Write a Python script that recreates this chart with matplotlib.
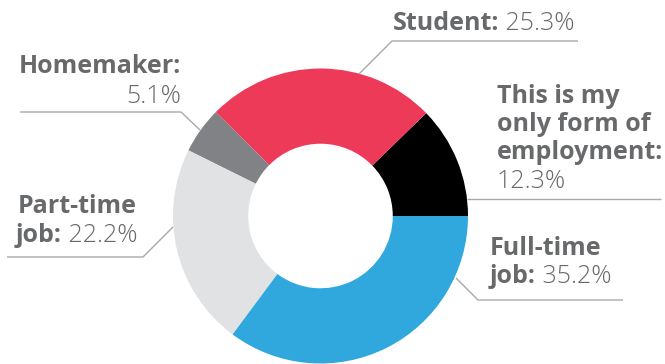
import matplotlib.pyplot as plt

# survey shares, in drawing order (counter-clockwise from 3 o'clock)
labels = ["This is my\nonly form of\nemployment:", "Student:", "Homemaker:", "Part-time\njob:", "Full-time\njob:"]
shares = [12.3, 25.3, 5.1, 22.2, 35.2]
colors = ["#000000", "#ee3a59", "#808285", "#e1e2e4", "#30a8de"]

W, H = 665, 364
cx, cy, R = 320.5, H - 216, 147.5
TXT = "#68696b"
LINE = "#a7a9ac"
FONT = "Open Sans"
FS = 18

fig = plt.figure(figsize=(W / 100, H / 100), dpi=100)
ax = fig.add_axes([0, 0, 1, 1])
ax.pie(shares, colors=colors, startangle=0, counterclock=True, center=(cx, cy), radius=R,
       wedgeprops=dict(width=R * 0.51, linewidth=0))
ax.set_xlim(0, W)
ax.set_ylim(0, H)
ax.set_aspect("equal")
ax.axis("off")

# leader lines: (x, y) points in pixel rows from top
leaders = [
    [(467, 199), (661, 199)],
    [(359, 74), (392, 41), (578, 41)],
    [(200, 130), (181, 112), (20, 112)],
    [(173, 227), (143, 257), (7, 257)],
    [(456, 278), (478, 300), (623, 300)],
]
for pts in leaders:
    ax.plot([p[0] for p in pts], [H - p[1] for p in pts], color=LINE, lw=1, solid_capstyle="butt")

bold = dict(fontfamily=FONT, fontweight="bold", fontsize=FS, color=TXT)
light = dict(fontfamily=FONT, fontweight="light", fontsize=FS, color=TXT)

# Student: 25.3%  (one line, left aligned)
t = ax.text(393, H - 30, labels[1], ha="left", va="baseline", **bold)
ax.annotate(f" {shares[1]}%", xy=(1, 0), xycoords=t, ha="left", va="bottom", **light)

# This is my only form of employment: 12.3%
ax.text(497, H - 103, "This is my", ha="left", va="baseline", **bold)
ax.text(497, H - 131, "only form of", ha="left", va="baseline", **bold)
ax.text(497, H - 159, "employment:", ha="left", va="baseline", **bold)
ax.text(497, H - 188, f"{shares[0]}%", ha="left", va="baseline", **light)

# Homemaker: 5.1%  (right aligned)
ax.text(181, H - 73, labels[2], ha="right", va="baseline", **bold)
ax.text(181, H - 103, f"{shares[2]}%", ha="right", va="baseline", **light)

# Part-time job: 22.2%  (right aligned)
ax.text(137, H - 213, "Part-time", ha="right", va="baseline", **bold)
p = ax.text(137, H - 242, f" {shares[3]}%", ha="right", va="baseline", **light)
ax.annotate("job:", xy=(0, 0), xycoords=p, ha="right", va="bottom", **bold)

# Full-time job: 35.2%
ax.text(490, H - 255, "Full-time", ha="left", va="baseline", **bold)
f = ax.text(490, H - 283, "job:", ha="left", va="baseline", **bold)
ax.annotate(f" {shares[4]}%", xy=(1, 0), xycoords=f, ha="left", va="bottom", **light)

fig.savefig("out.png", dpi=100)
